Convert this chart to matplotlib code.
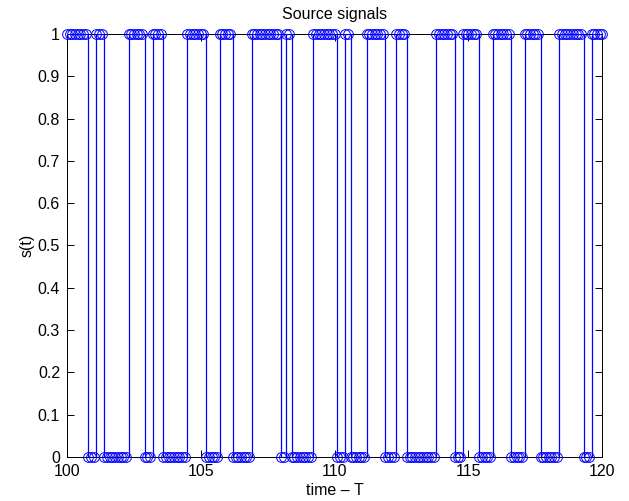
import numpy as np
import matplotlib
matplotlib.use('Agg')
import matplotlib.pyplot as plt

plt.rcParams['font.family'] = ['Liberation Sans', 'DejaVu Sans']

# signal sampled every 0.1 T from 100 to 120, starts high
t_start = 100.0
t_end = 120.0
dt = 0.1
start_level = 1
# times where the source signal flips level
switch_times = [100.8, 101.1, 101.4, 102.3, 102.9, 103.2, 103.6, 104.5, 105.2,
                105.7, 106.2, 106.9, 108.0, 108.2, 108.4, 109.2, 110.1, 110.4,
                110.6, 111.2, 111.9, 112.3, 112.7, 113.8, 114.5, 114.8, 115.4,
                115.9, 116.6, 117.1, 117.7, 118.4, 119.3, 119.6]

x_ticks = [100, 105, 110, 115, 120]
y_ticks = [0, 0.1, 0.2, 0.3, 0.4, 0.5, 0.6, 0.7, 0.8, 0.9, 1]
y_ticklabels = ['0', '0.1', '0.2', '0.3', '0.4', '0.5', '0.6', '0.7', '0.8', '0.9', '1']

n = int(round((t_end - t_start) / dt)) + 1
t = np.round(t_start + dt * np.arange(n), 1)
edges = [0] + [int(round((s - t_start) / dt)) for s in switch_times] + [n]
s = np.zeros(n)
level = start_level
for a, b in zip(edges[:-1], edges[1:]):
    s[a:b] = level
    level = 1 - level

fig = plt.figure(figsize=(6.29, 5.01), dpi=100)
ax = fig.add_axes([0.1065, 0.088, 0.851, 0.844])

ax.step(t, s, where='post', color='#0000ff', lw=0.9)
ax.plot(t, s, 'o', mfc='none', mec='#0000ff', ms=7, mew=0.7, clip_on=False)

ax.set_xlim(100, 120)
ax.set_ylim(0, 1)
ax.set_xticks(x_ticks)
ax.set_yticks(y_ticks)
ax.set_yticklabels(y_ticklabels)
ax.tick_params(direction='in', length=5, width=0.7, top=True, right=True,
               labelsize=11.5, pad=5)
for sp in ax.spines.values():
    sp.set_linewidth(0.7)
    sp.set_zorder(1)

ax.set_title('Source signals', fontsize=11.5, pad=11)
ax.set_xlabel('time \u2013 T', fontsize=11.5, labelpad=3)
ax.set_ylabel('s(t)', fontsize=11.5, labelpad=2)

fig.savefig('out.png', dpi=100)
